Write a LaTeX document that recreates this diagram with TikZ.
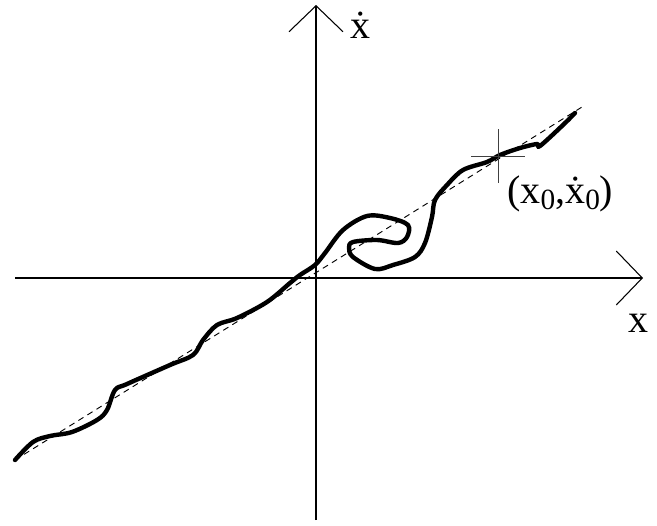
\documentclass[tikz,border=0pt]{standalone}
\usepackage{fontspec}
\setmainfont{Liberation Serif}
\usetikzlibrary{arrows.meta}
\tikzset{
  axis/.style={draw=black, line width=0.8pt,
               -{Straight Barb[length=19.5pt, width=40.5pt, line width=0.8pt]}},
  traj/.style={draw=black, line width=3.3pt, line cap=round, line join=round},
  guide/.style={draw=black, line width=0.7pt, dash pattern=on 4.5pt off 3.5pt},
  marker/.style={draw=black!75, line width=0.6pt},
  axlbl/.style={font=\fontsize{30}{36}\selectfont, inner sep=0pt}
}
\newcommand{\subzero}{\raisebox{-0.35ex}{\fontsize{22}{22}\selectfont 0}}

\begin{document}
\begin{tikzpicture}[x=0.75pt, y=-0.75pt]
\useasboundingbox (0,0) rectangle (657,525);

% axes
\coordinate (origin) at (316,278);
\coordinate (xend) at (643,278);
\coordinate (xstart) at (15,278);
\coordinate (yend) at (316,5);
\coordinate (ystart) at (316,520);
\draw[axis] (xstart) -- (xend);
\draw[axis] (ystart) -- (yend);
\node[axlbl, anchor=base west] (xlbl) at (628,332) {x};
\node[axlbl, anchor=base west] (xdotlbl) at (350,38) {\.x};

% linear approximation
\coordinate (lowend) at (15,460);
\coordinate (highend) at (582,107);
\draw[guide] (lowend) -- (highend);

% trajectory
\draw[traj] plot[smooth, tension=0.55] coordinates {
  (15,460) (33,442) (50,436) (72,432) (97,420) (107,410) (115,390)
  (127,384) (170,365) (193,355) (203,340) (217,325) (237,318) (267,302)
  (290,283) (300,275) (315,265) (325,253) (343,230) (367,216) (390,218)
  (408,225) (407,237) (398,243) (377,240) (353,242) (349,248) (353,257)
  (375,269) (393,265) (415,257) (425,243) (432,217) (435,200) (447,185)
  (463,170) (487,162) (500,155) (520,148) (537,144) (540,146) (563,125)
  (575,113)};

% operating point
\coordinate (op) at (498,156);
\draw[marker] ([xshift=-27*0.75pt]op) -- ([xshift=27*0.75pt]op);
\draw[marker] ([yshift=27*0.75pt]op) -- ([yshift=-27*0.75pt]op);
\node[axlbl, anchor=base west] (oplbl) at (507,203) {(x\subzero,\.x\subzero)};

\end{tikzpicture}
\end{document}
